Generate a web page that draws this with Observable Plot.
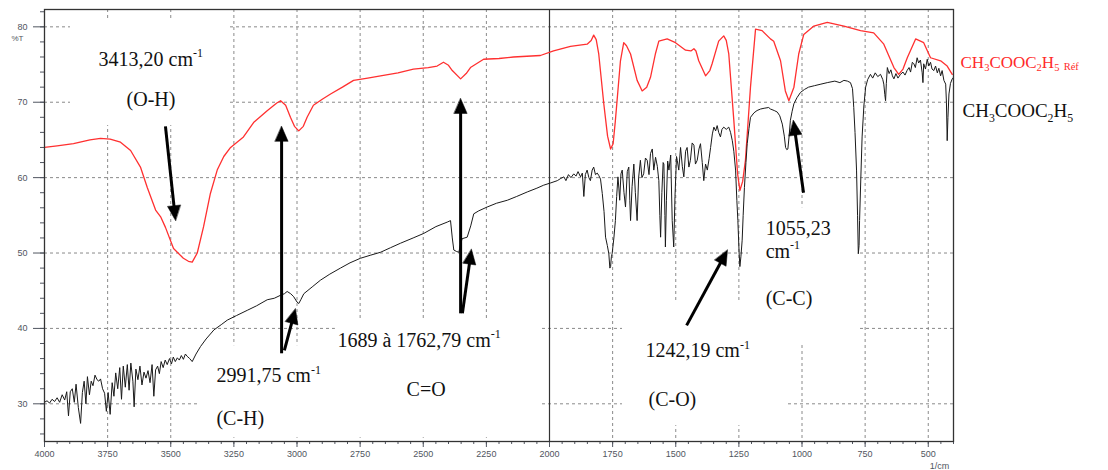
<!DOCTYPE html>
<html>
<head>
<meta charset="utf-8">
<script src="https://cdn.jsdelivr.net/npm/d3@7"></script>
<script src="https://cdn.jsdelivr.net/npm/@observablehq/plot@0.6"></script>
<style>
  html, body { margin: 0; padding: 0; background: #fff; }
  #chart { width: 1108px; height: 470px; }
</style>
</head>
<body>
<div id="chart"></div>
<script>
// ---------- DATA ----------
// Reference spectrum (red) : wavenumber (cm-1) and transmittance (%T)
const refWavenumber = [4000,3950,3885,3820,3778,3740,3699,3659,3620,3593,3560,3540,3521,3489,3450,3430,3415,3395,3370,3343,3316,3290,3263,3212,3172,3117,3080,3065,3045,3026,3010,2993,2975,2960,2935,2900,2867,2820,2776,2720,2669,2600,2539,2480,2445,2420,2400,2385,2352,2330,2313,2261,2200,2143,2036,1984,1917,1851,1835,1825,1815,1805,1785,1770,1758,1748,1739,1719,1706,1695,1679,1653,1633,1615,1600,1580,1567,1534,1501,1461,1440,1428,1420,1409,1382,1365,1356,1330,1310,1300,1290,1270,1255,1246,1235,1224,1204,1184,1158,1125,1112,1085,1066,1052,1032,1013,993,953,900,834,768,716,676,636,617,600,583,550,518,491,451,425,405];
const refTransmittance = [64.0,64.2,64.5,65.0,65.2,65.1,64.7,63.6,61.4,58.7,55.7,54.8,53.4,50.6,49.3,48.9,48.8,50.0,53.5,57.9,61.0,62.8,64.0,65.4,67.3,68.9,69.9,70.2,69.6,68.0,66.8,66.2,66.8,68.0,69.6,70.4,71.1,72.0,72.9,73.2,73.5,73.9,74.4,74.6,74.8,75.3,74.9,74.2,73.1,73.8,74.6,75.7,75.8,76.0,76.2,76.8,77.4,77.7,78.2,78.9,78.3,76.4,69.8,65.5,63.8,64.5,67.6,75.5,77.9,77.5,76.4,72.9,71.5,72.0,73.3,76.5,78.1,78.4,77.9,76.9,76.8,77.1,76.8,75.5,73.5,74.2,75.1,78.1,78.8,78.2,76.4,67.6,60.5,58.3,59.5,62.3,72.0,79.7,79.5,78.4,78.1,75.5,71.5,70.2,72.0,76.4,79.0,80.1,80.6,80.1,79.5,79.2,77.7,74.6,73.7,74.4,75.9,78.4,77.9,75.9,75.5,74.8,73.7];

// Sample spectrum (black)
const sampleWavenumber = [4000,3990,3980,3970,3960,3950,3940,3930,3920,3912,3905,3898,3890,3882,3875,3866,3857,3850,3843,3836,3830,3822,3815,3808,3800,3792,3785,3778,3770,3762,3755,3748,3740,3732,3725,3718,3710,3702,3695,3688,3680,3672,3665,3658,3650,3645,3638,3630,3622,3614,3606,3598,3590,3582,3574,3567,3560,3552,3545,3538,3530,3522,3514,3505,3497,3490,3482,3474,3466,3458,3450,3442,3435,3425,3415,3400,3382,3360,3329,3300,3276,3240,3197,3160,3118,3090,3065,3050,3039,3025,3013,3000,2993,2985,2973,2940,2907,2870,2828,2790,2749,2710,2669,2630,2590,2540,2498,2450,2405,2392,2385,2379,2368,2359,2352,2346,2326,2312,2300,2280,2247,2210,2167,2130,2088,2050,2023,1995,1969,1955,1943,1935,1925,1915,1904,1895,1887,1877,1870,1864,1858,1851,1844,1838,1831,1825,1818,1811,1805,1798,1791,1784,1778,1771,1765,1761,1758,1755,1752,1745,1739,1734,1729,1725,1722,1717,1712,1705,1699,1692,1686,1682,1679,1673,1666,1660,1653,1647,1640,1634,1627,1620,1613,1606,1600,1593,1587,1580,1573,1567,1563,1560,1555,1550,1547,1543,1541,1537,1532,1527,1520,1514,1510,1508,1503,1497,1494,1488,1481,1474,1468,1461,1455,1448,1442,1435,1428,1422,1415,1408,1402,1395,1389,1382,1375,1368,1362,1355,1349,1342,1336,1330,1323,1317,1310,1300,1290,1283,1276,1270,1263,1258,1254,1249,1246,1242,1237,1233,1228,1222,1217,1210,1204,1190,1178,1164,1150,1132,1125,1110,1098,1088,1078,1070,1065,1060,1056,1051,1046,1039,1032,1020,1006,990,974,950,925,900,870,850,834,820,808,800,795,790,784,780,777,774,772,767,762,755,748,740,729,720,710,700,689,680,676,672,669,666,662,655,648,642,636,628,620,610,600,592,584,576,570,563,557,551,544,538,531,524,521,518,511,504,498,491,485,478,471,464,458,451,445,438,431,428,425,422,418,412,405,400];
const sampleTransmittance = [30.2,30.4,30.1,30.6,30.3,30.8,30.2,31.2,30.5,31.6,28.4,31.6,32.0,30.2,32.6,29.5,27.4,31.5,33.0,30.0,33.6,31.2,33.0,32.4,33.8,33.2,33.0,33.3,32.0,31.4,29.0,31.5,28.6,32.8,31.0,34.1,32.0,34.8,30.6,35.0,32.2,35.2,31.8,35.4,33.0,29.6,34.6,33.2,35.0,32.5,34.2,33.4,34.4,32.8,35.2,31.0,34.5,35.0,34.0,35.6,34.8,35.8,35.2,36.0,35.3,36.2,35.6,36.1,35.8,36.4,35.9,36.6,36.3,36.0,35.6,36.6,37.6,38.6,39.8,40.5,41.1,41.7,42.4,43.0,43.8,44.0,44.4,44.6,44.9,44.6,44.2,43.5,43.3,43.8,44.6,45.5,46.4,47.2,48.0,48.7,49.3,49.7,50.1,50.7,51.3,52.0,52.6,53.5,54.1,54.3,52.0,50.4,50.2,50.1,51.2,51.9,52.1,53.6,55.2,55.6,56.1,56.6,57.0,57.5,58.1,58.6,59.0,59.3,59.6,59.9,60.1,59.6,60.4,60.0,60.5,60.2,60.8,60.1,60.6,57.5,60.4,61.0,60.0,59.6,61.0,61.4,60.4,60.6,60.3,59.8,57.9,55.5,52.1,51.0,49.9,48.0,48.2,49.5,49.9,52.0,54.3,57.5,60.1,58.5,57.0,60.5,61.0,58.0,56.1,60.8,61.4,57.0,54.3,58.8,61.8,58.0,54.3,60.0,62.3,60.0,60.5,62.6,62.3,60.4,63.2,63.8,61.0,62.7,61.5,59.6,55.0,52.1,58.0,62.0,61.8,55.0,50.8,57.0,62.2,61.0,63.0,54.3,52.0,50.8,57.5,62.8,62.3,61.0,64.0,61.5,60.1,63.5,64.0,61.4,62.3,64.6,64.3,61.8,62.3,63.8,64.5,62.0,59.6,61.8,61.0,62.5,64.0,65.8,66.7,66.2,66.9,66.0,65.4,66.4,66.7,66.4,66.7,66.0,64.9,63.5,61.0,57.0,54.3,50.0,48.2,49.5,51.7,55.0,58.7,62.0,64.5,66.5,68.0,68.6,68.9,69.1,69.2,69.3,69.1,68.9,68.7,68.2,67.1,65.5,64.0,63.7,63.8,65.5,67.6,68.8,69.8,70.6,71.3,71.7,72.0,72.2,72.4,72.6,72.8,72.6,72.9,72.8,72.6,71.8,69.3,66.0,61.0,55.0,49.9,51.0,54.3,60.0,65.4,69.5,72.0,73.0,73.7,73.2,73.9,73.4,73.7,73.0,72.4,71.0,70.2,72.5,74.6,73.8,74.3,73.5,73.1,73.8,73.2,73.7,74.0,73.6,74.2,74.6,74.0,75.3,75.1,74.6,75.9,75.2,75.6,73.9,72.6,75.1,74.4,75.7,74.8,75.3,74.4,74.2,74.8,73.9,74.5,73.5,74.2,72.9,72.4,70.0,64.9,68.0,71.1,72.5,73.1,73.3];

// Axis ticks
const xTickValues = [4000,3750,3500,3250,3000,2750,2500,2250,2000,1750,1500,1250,1000,750,500];
const xMinorTicks = d3.range(400, 4001, 50);
const yTickValues = [30,40,50,60,70,80];
const yMinorTicks = d3.range(26, 83, 2);
const gridXValues = [4000,3750,3500,3250,3000,2750,2500,2250,1750,1500,1250,1000,750,500];
const dividerValue = [2000];

// Annotations (band assignments)
const annoText = ["3413,20 cm^{-1}", "(O-H)", "2991,75 cm^{-1}", "(C-H)", "1689 à 1762,79 cm^{-1}", "C=O", "1242,19 cm^{-1}", "(C-O)", "1055,23", "cm^{-1}", "(C-C)"];
const annoX = [3786, 3675, 3319, 3319, 2840, 2566, 1620, 1608, 1144, 1144, 1144];
const annoY = [75.7, 70.3, 33.7, 28.0, 38.45, 31.95, 37.0, 30.5, 53.2, 50.25, 43.9];

// Arrows (tail -> tip)
const arrowX1 = [3521, 3061, 3050, 2352, 2345, 1457, 994];
const arrowY1 = [66.8, 36.7, 37.1, 42.0, 42.0, 40.4, 58.0];
const arrowX2 = [3481, 3061, 3006, 2352, 2309, 1295, 1034];
const arrowY2 = [54.3, 66.8, 42.6, 70.5, 50.5, 50.4, 67.6];

// White text-box backgrounds
const boxX1 = [3897, 3390, 2848, 1711, 1212];
const boxX2 = [3275, 2808, 2036, 1061, 776];
const boxY1 = [66.9, 25.5, 25.5, 27.1, 38.1];
const boxY2 = [80.8, 37.7, 41.0, 43.7, 56.0];

// Legend
const legendText = ["CH_{3}COOC_{2}H_{5} ~{Réf}", "CH_{3}COOC_{2}H_{5}"];
const legendColor = ["#ff2a2a", "#111111"];
const legendY = [75.3, 68.8];
const legendSize = [17, 19];
const legendDx = [7, 9];

// ---------- BUILD ----------
const W = 1108, H = 470, ML = 44, MR = 155, MT = 9, MB = 29;
const xDomain = [4000, 400], yDomain = [25, 82.3];
const xs = Plot.scale({x: {domain: xDomain, range: [ML, W - MR]}});
const ys = Plot.scale({y: {domain: yDomain, range: [H - MB, MT]}});

const refData = refWavenumber.map((w, i) => ({w, t: refTransmittance[i]}));
const sampleData = sampleWavenumber.map((w, i) => ({w, t: sampleTransmittance[i]}));
const annos = annoText.map((s, i) => ({s, x: annoX[i], y: annoY[i]}));
const boxes = boxX1.map((x1, i) => ({x1, x2: boxX2[i], y1: boxY1[i], y2: boxY2[i]}));
const legend = legendText.map((s, i) => ({s, c: legendColor[i], y: legendY[i], fs: legendSize[i]}));

// Arrow shafts and filled heads, built through the chart scales
const HEAD_LEN = 15, HEAD_W = 13;
const shafts = [], heads = [];
arrowX1.forEach((x1, i) => {
  const p1 = [xs.apply(x1), ys.apply(arrowY1[i])];
  const p2 = [xs.apply(arrowX2[i]), ys.apply(arrowY2[i])];
  const len = Math.hypot(p2[0] - p1[0], p2[1] - p1[1]);
  const u = [(p2[0] - p1[0]) / len, (p2[1] - p1[1]) / len];
  const n = [-u[1], u[0]];
  const base = [p2[0] - HEAD_LEN * u[0], p2[1] - HEAD_LEN * u[1]];
  const shaftEnd = [base[0] + 3 * u[0], base[1] + 3 * u[1]];
  shafts.push({x1, y1: arrowY1[i], x2: xs.invert(shaftEnd[0]), y2: ys.invert(shaftEnd[1])});
  const pts = [p2, [base[0] + n[0] * HEAD_W / 2, base[1] + n[1] * HEAD_W / 2], [base[0] - n[0] * HEAD_W / 2, base[1] - n[1] * HEAD_W / 2]];
  pts.forEach(p => heads.push({k: i, x: xs.invert(p[0]), y: ys.invert(p[1])}));
});

const axisColor = "#505560";
const gridStyle = {stroke: "#8a8a8a", strokeOpacity: 1, strokeDasharray: "3,3", strokeWidth: 1};
const serif = "'Liberation Serif', 'Times New Roman', serif";

const chart = Plot.plot({
  width: W,
  height: H,
  marginLeft: ML,
  marginRight: MR,
  marginTop: MT,
  marginBottom: MB,
  style: {background: "#fff", fontFamily: "'Liberation Sans', Arial, sans-serif", overflow: "visible"},
  x: {domain: xDomain},
  y: {domain: yDomain},
  marks: [
    Plot.gridX(gridXValues, gridStyle),
    Plot.gridY(yTickValues, gridStyle),
    Plot.rect(boxes, {x1: "x1", x2: "x2", y1: "y1", y2: "y2", fill: "#fff"}),
    Plot.ruleX(dividerValue, {stroke: "#333", strokeWidth: 1.2}),
    Plot.axisX(xTickValues, {tickSize: 6, tickPadding: 3, tickFormat: "d", fontSize: 9, color: axisColor, label: null}),
    Plot.axisX(xMinorTicks, {tickSize: 3, tickFormat: () => "", color: axisColor, label: null}),
    Plot.axisY(yTickValues, {tickSize: 11, tickPadding: 6, tickFormat: "d", fontSize: 9, color: axisColor, label: null}),
    Plot.axisY(yMinorTicks, {tickSize: 4, tickFormat: () => "", color: axisColor, label: null}),
    Plot.line(refData, {x: "w", y: "t", stroke: "#ff3030", strokeWidth: 1.3}),
    Plot.line(sampleData, {x: "w", y: "t", stroke: "#1a1a1a", strokeWidth: 1}),
    Plot.link(shafts, {x1: "x1", y1: "y1", x2: "x2", y2: "y2", stroke: "#000", strokeWidth: 3}),
    Plot.line(heads, {x: "x", y: "y", z: "k", fill: "#000", stroke: "#000", strokeWidth: 0.5, curve: "linear-closed"}),
    Plot.text(annos, {x: "x", y: "y", text: "s", textAnchor: "start", fontSize: 20, fontFamily: serif, fill: "#111"}),
    Plot.text(legend, {x: () => 400, y: "y", text: "s", textAnchor: "start", fill: "c", fontSize: "fs", fontFamily: serif}),
    Plot.text(["%T"], {x: 4000, y: 78.45, dx: -27, text: d => d, textAnchor: "middle", fontSize: 8, fill: axisColor}),
    Plot.text(["1/cm"], {x: 400, y: 25, dx: -14, dy: 25, text: d => d, textAnchor: "middle", fontSize: 9, fill: axisColor}),
    Plot.frame({stroke: "#333", strokeWidth: 1.3})
  ]
});

document.getElementById("chart").appendChild(chart);

const SVGNS = "http://www.w3.org/2000/svg";

// Legend horizontal offsets
chart.querySelectorAll("text").forEach(t => {
  const i = legendText.indexOf(t.textContent);
  if (i >= 0) {
    const tr = t.getAttribute("transform") || "";
    t.setAttribute("transform", `translate(${legendDx[i]},0) ` + tr);
  }
});

// Rich text: ^{sup}, _{sub}, ~{small}
chart.querySelectorAll("text").forEach(t => {
  const s = t.textContent;
  if (!/[\^_~]\{/.test(s)) return;
  const fs = parseFloat(getComputedStyle(t).fontSize) || 16;
  while (t.firstChild) t.removeChild(t.firstChild);
  const re = /([\^_~])\{([^}]*)\}|([^\^_~]+)/g;
  let m, shift = 0;
  while ((m = re.exec(s)) !== null) {
    const ts = document.createElementNS(SVGNS, "tspan");
    let target = 0, size = null;
    if (m[1] === "^") { target = -0.42 * fs; size = 0.6 * fs; ts.textContent = m[2]; }
    else if (m[1] === "_") { target = 0.22 * fs; size = 0.62 * fs; ts.textContent = m[2]; }
    else if (m[1] === "~") { target = 0.12 * fs; size = 0.62 * fs; ts.textContent = m[2]; }
    else { target = 0; ts.textContent = m[3]; }
    ts.setAttribute("dy", (target - shift).toFixed(2));
    if (size) ts.setAttribute("font-size", size.toFixed(1));
    shift = target;
    t.appendChild(ts);
  }
});
</script>
</body>
</html>
